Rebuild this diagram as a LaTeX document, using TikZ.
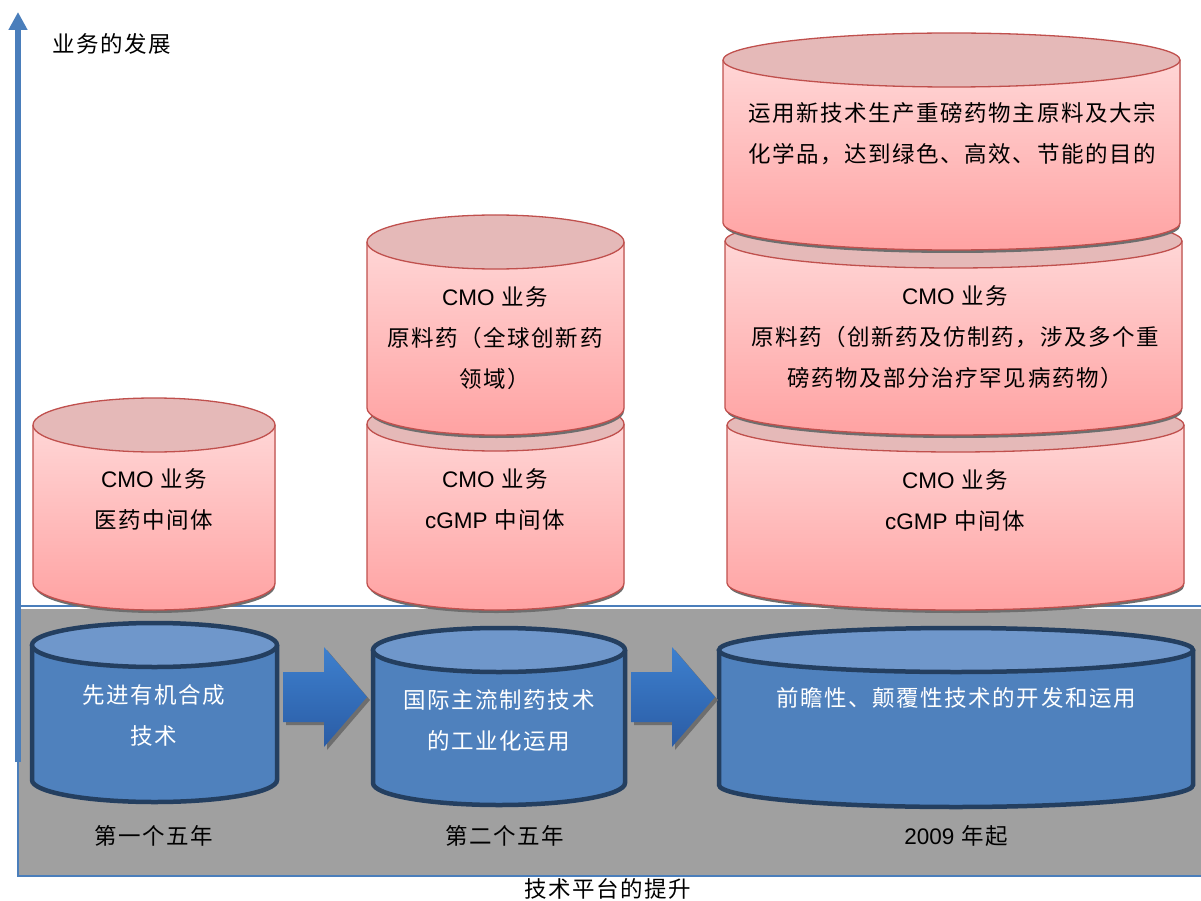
\documentclass[tikz,border=0pt]{standalone}
\usepackage{fontspec}
\setmainfont[LetterSpace=7]{Noto Sans CJK SC}
\newfontfamily\lat{Liberation Sans}
\usetikzlibrary{arrows.meta}

\definecolor{axisblue}{RGB}{74,126,187}
\definecolor{bggray}{RGB}{160,160,160}
\definecolor{pinkhi}{RGB}{255,214,214}
\definecolor{pinklo}{RGB}{255,162,162}
\definecolor{pinktop}{RGB}{229,185,184}
\definecolor{pinkedge}{RGB}{192,80,77}
\definecolor{bluebody}{RGB}{79,129,189}
\definecolor{bluetop}{RGB}{111,151,203}
\definecolor{blueedge}{RGB}{36,63,96}
\definecolor{arrowhi}{RGB}{62,128,206}
\definecolor{arrowlo}{RGB}{42,92,165}
\definecolor{shadowgray}{RGB}{110,110,110}

\tikzset{
  lbl/.style={font=\fontsize{22.5}{41}\selectfont, align=center, inner sep=0pt},
  lblw/.style={lbl, text=white},
}

% pink cylinder: left x, right x, top y, bottom y, radius (pixels, y down)
\newcommand\pinkcyl[5]{%
  \pgfmathsetmacro\cx{(#1+#2)/2}\pgfmathsetmacro\rx{(#2-#1)/2}
  \fill[shadowgray] (#1+2,-#3) -- (#1+2,-#4-3) arc[start angle=180,end angle=360,x radius=\rx-1,y radius=#5] -- (#2,-#3) -- cycle;
  \shade[top color=pinkhi, bottom color=pinklo] (#1,-#3) -- (#1,-#4) arc[start angle=180,end angle=360,x radius=\rx,y radius=#5] -- (#2,-#3) -- cycle;
  \draw[pinkedge, line width=1.3pt] (#1,-#3) -- (#1,-#4) arc[start angle=180,end angle=360,x radius=\rx,y radius=#5] -- (#2,-#3);
  \draw[pinkedge, fill=pinktop, line width=1.3pt] (\cx,-#3) ellipse[x radius=\rx,y radius=#5];
}

% blue cylinder
\newcommand\bluecyl[5]{%
  \pgfmathsetmacro\cx{(#1+#2)/2}\pgfmathsetmacro\rx{(#2-#1)/2}
  \fill[bluebody] (#1,-#3) -- (#1,-#4) arc[start angle=180,end angle=360,x radius=\rx,y radius=#5] -- (#2,-#3) -- cycle;
  \draw[blueedge, line width=4.5pt] (#1,-#3) -- (#1,-#4) arc[start angle=180,end angle=360,x radius=\rx,y radius=#5] -- (#2,-#3);
  \draw[blueedge, fill=bluetop, line width=4.5pt] (\cx,-#3) ellipse[x radius=\rx,y radius=#5];
}

\begin{document}
\begin{tikzpicture}[x=1pt, y=1pt]
    \useasboundingbox (0,0) rectangle (1201,-901);

    % technology platform band
    \fill[bggray] (18,-609) rectangle (1201,-876);
    \draw[axisblue, line width=1.5pt] (18,-609) -- (18,-876) -- (1201,-876);
    \draw[axisblue, line width=1.5pt] (18,-606) -- (1201,-606);

    \coordinate (ybot) at (18,-762);
    \coordinate (ytop) at (18,-12);
    \draw[axisblue, line width=6pt, -{Triangle[width=18pt,length=18pt]}] (ybot) -- (ytop);

    % business cylinders
    \foreach \a/\b/\c/\d in {33/275/425/583, 367/624/424/583, 367/624/242/408,
                             727/1184/425/583, 725/1182/241/408, 723/1180/60/223} {
        \pinkcyl{\a}{\b}{\c}{\d}{27}
    }

    % platform cylinders
    \bluecyl{32}{277}{645}{780}{22}
    \bluecyl{373}{625}{650}{783}{22}
    \bluecyl{719}{1193}{650}{785}{22}

    % block arrows
    \foreach \dx in {0,348} {
        \fill[shadowgray] (283+\dx+3,-675) -- (324+\dx+3,-675) -- (324+\dx+3,-650) -- (367+\dx+3,-700)
            -- (324+\dx+3,-750) -- (324+\dx+3,-725) -- (283+\dx+3,-725) -- cycle;
        \shade[top color=arrowhi, bottom color=arrowlo] (283+\dx,-672) -- (324+\dx,-672) -- (324+\dx,-647) -- (367+\dx,-697)
            -- (324+\dx,-747) -- (324+\dx,-722) -- (283+\dx,-722) -- cycle;
    }

    % labels
    \node[lbl] (yname) at (112,-44) {业务的发展};
    \node[lbl] (xname) at (608,-889) {技术平台的提升};

    \node[lbl] (mid1) at (154,-499) {{\lat CMO} 业务\\医药中间体};
    \node[lbl] (mid2) at (495,-499) {{\lat CMO} 业务\\{\lat cGMP} 中间体};
    \node[lbl] (api2) at (495,-338) {{\lat CMO} 业务\\原料药（全球创新药\\领域）};
    \node[lbl] (mid3) at (955,-500) {{\lat CMO} 业务\\{\lat cGMP} 中间体};
    \node[lbl] (api3) at (955,-337) {{\lat CMO} 业务\\原料药（创新药及仿制药，涉及多个重\\磅药物及部分治疗罕见病药物）};
    \node[lbl] (bulk3) at (952,-134) {运用新技术生产重磅药物主原料及大宗\\化学品，达到绿色、高效、节能的目的};

    \node[lblw] (tech1) at (154,-715) {先进有机合成\\技术};
    \node[lblw] (tech2) at (499,-720) {国际主流制药技术\\的工业化运用};
    \node[lblw] (tech3) at (956,-698) {前瞻性、颠覆性技术的开发和运用};

    \node[lbl] (era1) at (154,-836) {第一个五年};
    \node[lbl] (era2) at (505,-836) {第二个五年};
    \node[lbl] (era3) at (956,-836) {{\lat 2009} 年起};
\end{tikzpicture}
\end{document}
